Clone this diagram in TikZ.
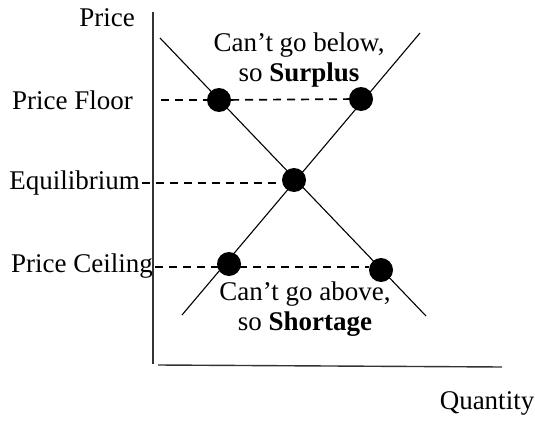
\documentclass[tikz,border=0pt]{standalone}
\usepackage{fontspec}
\setmainfont{Liberation Serif}
\begin{document}
\begin{tikzpicture}[x=1pt,y=-1pt,
  lbl/.style={font=\fontsize{27}{30}\selectfont, inner sep=0pt},
  dot/.style={circle, fill=black, minimum size=24pt, inner sep=0pt},
  axis/.style={line width=1.4pt, draw=black!80},
  curve/.style={line width=1.1pt},
  dsh/.style={line width=1.7pt, dash pattern=on 8pt off 6pt}]
\useasboundingbox (0,0) rectangle (535,420);
% axes
\coordinate (ytop) at (153,12);
\coordinate (ybot) at (153,364);
\coordinate (xl) at (158,365);
\coordinate (xr) at (502,367);
\draw[axis] (ytop) -- (ybot);
\draw[axis] (xl) -- (xr);
% curves
\coordinate (d1) at (160,38);
\coordinate (d2) at (426,316);
\coordinate (s1) at (182,315);
\coordinate (s2) at (420,33);
\draw[curve] (d1) -- (d2);
\draw[curve] (s1) -- (s2);
% labels
\node[lbl, anchor=east] (price) at (135,18) {Price};
\node[lbl, anchor=east] (floor) at (133,100) {Price Floor};
\node[lbl, anchor=east] (eq) at (140,183) {Equilibrium};
\node[lbl, anchor=east] (ceil) at (153,266) {Price Ceiling};
\node[lbl] (qty) at (487,403) {Quantity};
\node[lbl, align=center] (surplus) at (299,60) {Can’t go below,\\so \textbf{Surplus}};
\node[lbl, align=center] (shortage) at (305,309) {Can’t go above,\\so \textbf{Shortage}};
% dots
\node[dot] (fl) at (219,100) {};
\node[dot] (fr) at (361,99) {};
\node[dot] (e) at (294,180) {};
\node[dot] (cl) at (229,264) {};
\node[dot] (cr) at (381,270) {};
% dashed lines
\coordinate (fstart) at (161,100);
\coordinate (estart) at (142,183);
\coordinate (cstart) at (155,267);
\draw[dsh] (fstart) -- (fl);
\draw[dsh] (fl) -- (fr);
\draw[dsh] (estart) -- (e.west |- estart);
\draw[dsh] (cstart) -- (cr.west |- cstart);
\end{tikzpicture}
\end{document}
